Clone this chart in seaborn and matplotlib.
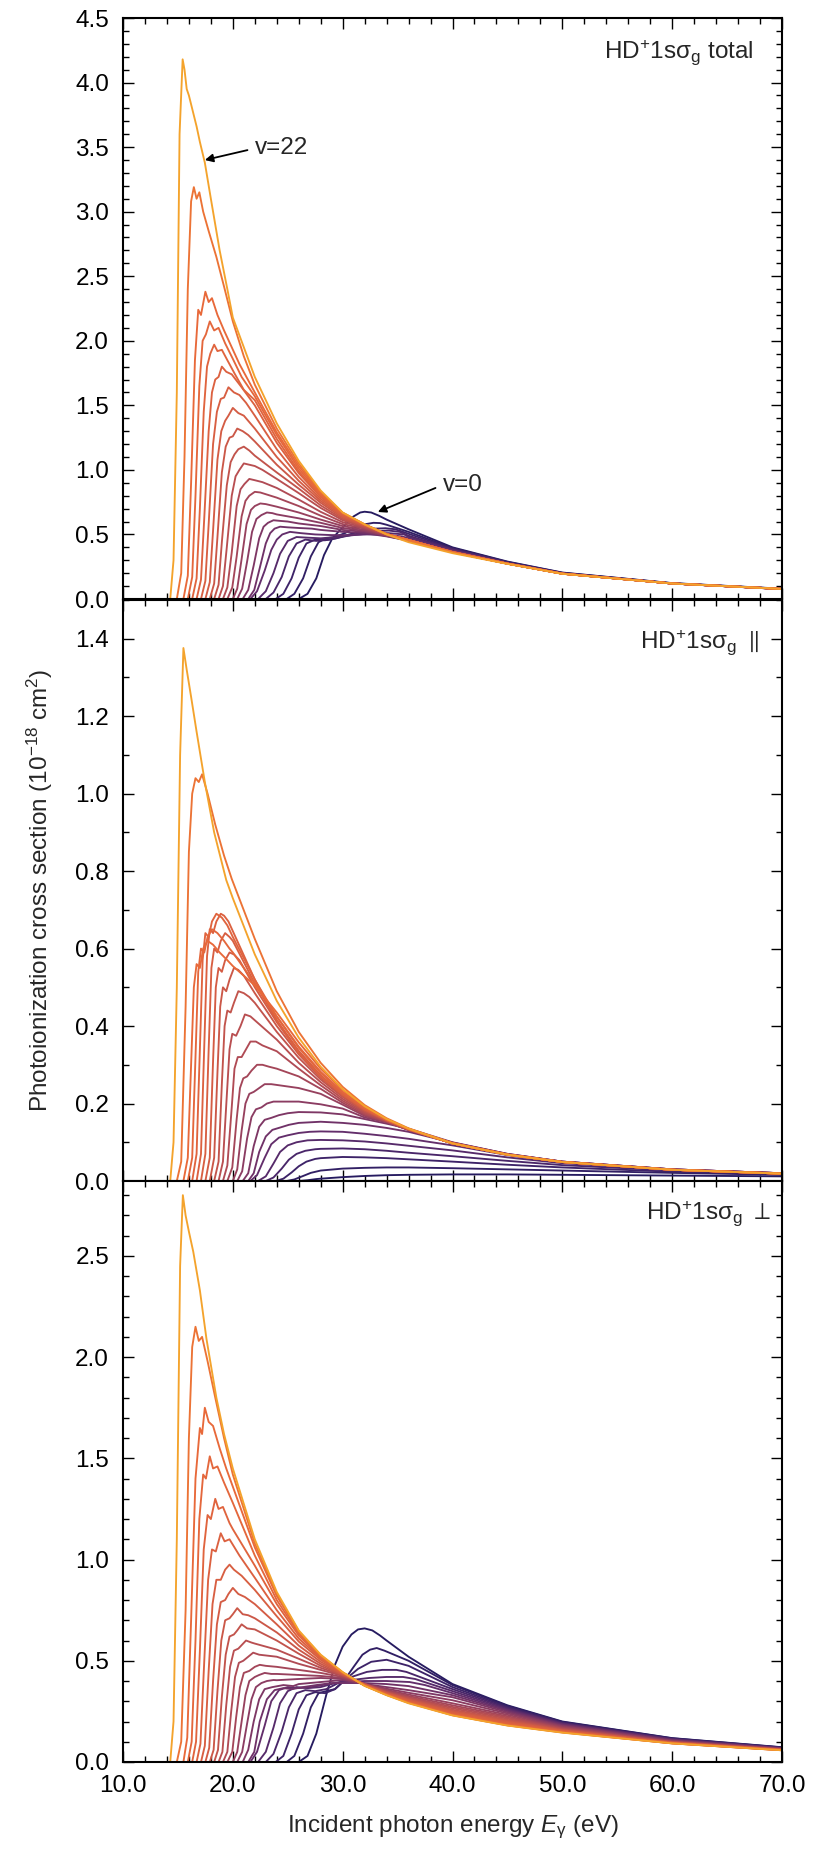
import matplotlib
matplotlib.use("Agg")
import matplotlib.pyplot as plt
import numpy as np
import pandas as pd
import seaborn as sns
from matplotlib.ticker import MultipleLocator, FormatStrFormatter
from matplotlib.colors import LinearSegmentedColormap, to_hex

N = None
levels = list(range(23))
tail_E = [20, 22, 24, 26, 28, 30, 32, 34, 36, 40, 45, 50, 60, 70]

# ---------------- total ----------------
total_head_E = [
    [26.0, 26.8, 27.6, 28.3, 29.0, 29.6, 30.3, 31.0, 31.6, 32.0, 32.6, 33.3],
    [24.9, 25.6, 26.4, 27.1, 27.8, 28.5, 29.3, 30.2, 31.2, 32.1, 32.8, 33.4, 34.0],
    [23.9, 24.6, 25.35, 26.0, 26.7, 27.5, 28.4, 29.4, 30.6, 31.8, 32.9, 33.9, 34.8],
    [23.0, 23.7, 24.45, 25.1, 25.8, 26.6, 27.6, 28.8, 30.2, 31.6, 32.9, 34.2, 35.2],
    [22.3, 23.0, 23.7, 24.3, 25.0, 25.8, 26.8, 28.0, 29.4, 31.0, 32.6, 34.2, 35.6],
    [21.6, 22.2, 22.9, 23.5, 24.0, 24.5, 25.2, 26.2, 27.5, 29.0, 30.6, 32.2, 33.8, 35.4],
    [21.4, 21.95, 22.45, 23.0, 23.4, 23.8, 24.3, 25.0, 26.0, 27.2],
    [20.9, 21.4, 21.9, 22.4, 22.8, 23.2, 23.7, 24.3, 25.0],
    [20.4, 20.85, 21.3, 21.75, 22.15, 22.6, 23.1, 23.6],
    [20.0, 20.4, 20.8, 21.25, 21.65, 22.0, 22.5, 23.0],
    [19.5, 19.95, 20.35, 20.8, 21.15, 21.5, 22.0, 22.5],
    [19.1, 19.5, 19.9, 20.35, 20.7, 21.05, 21.5, 22.0, 22.7],
    [18.7, 19.1, 19.45, 19.9, 20.25, 20.6, 21.0, 21.5, 22.0, 22.7],
    [18.3, 18.7, 19.0, 19.45, 19.8, 20.15, 20.5, 21.0, 21.5],
    [17.9, 18.3, 18.6, 19.0, 19.35, 19.7, 20.0, 20.4, 20.9, 21.4],
    [17.5, 17.9, 18.2, 18.6, 18.95, 19.3, 19.6, 20.0, 20.5, 21.0],
    [17.1, 17.5, 17.8, 18.2, 18.55, 18.9, 19.2, 19.6, 20.1, 20.6, 21.2],
    [16.7, 17.1, 17.4, 17.8, 18.1, 18.4, 18.7, 19.0, 19.4, 19.9, 20.8],
    [16.3, 16.7, 17.0, 17.35, 17.65, 17.95, 18.3, 18.6, 19.0, 19.5, 20.2, 21.0],
    [15.9, 16.3, 16.6, 16.95, 17.25, 17.55, 17.9, 18.3, 18.7, 19.3, 20.0, 20.8],
    [15.5, 15.9, 16.2, 16.55, 16.85, 17.1, 17.5, 17.8, 18.1, 18.6, 19.2, 19.9, 20.6],
    [14.9, 15.3, 15.6, 15.9, 16.2, 16.45, 16.7, 16.95, 17.3, 17.8, 18.5, 19.2, 20.0, 21.0],
    [14.3, 14.6, 14.9, 15.15, 15.43, 15.6, 15.8, 16.0, 16.35, 16.7, 17.0, 17.45, 18.0, 18.8, 19.5],
]
total_head_S = [
    [0, 0.04, 0.16, 0.34, 0.46, 0.52, 0.58, 0.64, 0.67, 0.676, 0.67, 0.645],
    [0, 0.04, 0.16, 0.33, 0.44, 0.47, 0.48, 0.51, 0.555, 0.58, 0.59, 0.588, 0.575],
    [0, 0.04, 0.16, 0.32, 0.43, 0.46, 0.455, 0.47, 0.5, 0.53, 0.545, 0.548, 0.54],
    [0, 0.05, 0.17, 0.33, 0.43, 0.46, 0.45, 0.46, 0.485, 0.51, 0.525, 0.53, 0.52],
    [0, 0.06, 0.2, 0.35, 0.45, 0.48, 0.475, 0.47, 0.48, 0.495, 0.51, 0.51, 0.5],
    [0, 0.06, 0.22, 0.38, 0.46, 0.5, 0.52, 0.51, 0.5, 0.495, 0.495, 0.5, 0.497, 0.485],
    [0, 0.07, 0.24, 0.43, 0.51, 0.545, 0.56, 0.555, 0.55, 0.545],
    [0, 0.07, 0.26, 0.47, 0.56, 0.59, 0.61, 0.605, 0.6],
    [0, 0.08, 0.29, 0.52, 0.62, 0.65, 0.67, 0.665],
    [0, 0.08, 0.31, 0.58, 0.69, 0.72, 0.74, 0.735],
    [0, 0.09, 0.33, 0.64, 0.76, 0.8, 0.83, 0.825],
    [0, 0.09, 0.36, 0.72, 0.85, 0.89, 0.93, 0.92, 0.905],
    [0, 0.1, 0.4, 0.8, 0.95, 1.0, 1.05, 1.04, 1.03, 1.0],
    [0, 0.11, 0.44, 0.88, 1.06, 1.12, 1.16, 1.18, 1.15],
    [0, 0.12, 0.48, 0.98, 1.18, 1.25, 1.26, 1.32, 1.3, 1.27],
    [0, 0.13, 0.53, 1.08, 1.3, 1.38, 1.42, 1.48, 1.44, 1.42],
    [0, 0.14, 0.58, 1.2, 1.45, 1.55, 1.56, 1.64, 1.6, 1.58, 1.52],
    [0, 0.15, 0.63, 1.3, 1.6, 1.7, 1.72, 1.8, 1.76, 1.74, 1.64],
    [0, 0.16, 0.7, 1.45, 1.8, 1.9, 1.97, 1.92, 1.93, 1.85, 1.74, 1.62],
    [0, 0.17, 0.8, 1.65, 2.0, 2.05, 2.15, 2.08, 2.1, 1.98, 1.86, 1.72],
    [0, 0.18, 0.9, 1.85, 2.24, 2.2, 2.38, 2.3, 2.33, 2.2, 2.08, 1.95, 1.82],
    [0, 0.2, 1.1, 2.4, 3.08, 3.19, 3.1, 3.15, 3.0, 2.85, 2.65, 2.42, 2.15, 1.88],
    [0, 0.3, 1.6, 3.6, 4.18, 4.1, 3.95, 3.9, 3.78, 3.66, 3.54, 3.38, 3.1, 2.7, 2.4],
]
total_tail_S = [
    [N] * 7 + [0.615, 0.54, 0.40, 0.29, 0.205, 0.123, 0.08],
    [N] * 8 + [0.52, 0.395, 0.287, 0.203, 0.122, 0.079],
    [N] * 8 + [0.505, 0.39, 0.284, 0.201, 0.121, 0.079],
    [N] * 8 + [0.49, 0.385, 0.281, 0.2, 0.12, 0.078],
    [N] * 8 + [0.48, 0.38, 0.279, 0.199, 0.12, 0.078],
    [N] * 8 + [0.47, 0.375, 0.277, 0.198, 0.12, 0.078],
    [N] * 4 + [0.535, 0.52, 0.51, 0.485, 0.452, 0.37, 0.276, 0.198, 0.12, 0.077],
    [N] * 3 + [0.585, 0.565, 0.535, 0.52, 0.488, 0.453, 0.368, 0.275, 0.198, 0.12, 0.077],
    [N] * 2 + [0.655, 0.625, 0.59, 0.55, 0.527, 0.49, 0.454, 0.366, 0.275, 0.198, 0.12, 0.077],
    [N] * 2 + [0.715, 0.67, 0.615, 0.565, 0.535, 0.492, 0.455, 0.365, 0.275, 0.197, 0.12, 0.077],
    [N] * 2 + [0.785, 0.72, 0.645, 0.58, 0.545, 0.495, 0.455, 0.365, 0.275, 0.197, 0.12, 0.077],
    [N] * 2 + [0.86, 0.77, 0.675, 0.595, 0.552, 0.497, 0.455, 0.364, 0.274, 0.196, 0.12, 0.078],
    [N] * 2 + [0.93, 0.82, 0.705, 0.61, 0.558, 0.5, 0.456, 0.364, 0.274, 0.196, 0.12, 0.078],
    [N] + [1.11, 0.98, 0.855, 0.725, 0.62, 0.563, 0.5, 0.456, 0.364, 0.274, 0.196, 0.12, 0.078],
    [N] + [1.22, 1.04, 0.885, 0.745, 0.63, 0.567, 0.502, 0.457, 0.364, 0.274, 0.196, 0.12, 0.078],
    [N] + [1.32, 1.1, 0.915, 0.76, 0.64, 0.57, 0.503, 0.457, 0.364, 0.274, 0.196, 0.12, 0.078],
    [N] + [1.42, 1.16, 0.945, 0.775, 0.648, 0.572, 0.503, 0.457, 0.363, 0.274, 0.196, 0.12, 0.078],
    [N] + [1.5, 1.21, 0.975, 0.79, 0.655, 0.574, 0.503, 0.457, 0.363, 0.274, 0.196, 0.12, 0.078],
    [N] + [1.54, 1.24, 0.99, 0.8, 0.66, 0.575, 0.503, 0.457, 0.363, 0.274, 0.196, 0.12, 0.078],
    [N] + [1.57, 1.27, 1.01, 0.81, 0.665, 0.576, 0.503, 0.457, 0.363, 0.274, 0.196, 0.12, 0.078],
    [N] + [1.6, 1.29, 1.03, 0.82, 0.667, 0.577, 0.503, 0.457, 0.363, 0.274, 0.196, 0.12, 0.078],
    [N] + [1.66, 1.32, 1.05, 0.83, 0.668, 0.578, 0.502, 0.456, 0.362, 0.273, 0.196, 0.12, 0.078],
    [2.18, 1.72, 1.36, 1.07, 0.84, 0.67, 0.578, 0.5, 0.44, 0.355, 0.272, 0.195, 0.12, 0.078],
]

# ---------------- parallel ----------------
par_head_E = [
    [26.0, 26.8, 27.6],
    [24.9, 25.6, 26.4, 27.1],
    [23.9, 24.6, 25.35, 26.0, 26.7, 27.5],
    [23.0, 23.7, 24.45, 25.1, 25.8, 26.6, 27.5],
    [22.3, 23.0, 23.7, 24.3, 25.0, 25.8, 26.8],
    [21.6, 22.2, 22.9, 23.5, 24.2, 25.0, 26.0, 27.0],
    [21.4, 21.9, 22.4, 23.0, 23.6, 24.3, 25.1, 26.0],
    [20.9, 21.4, 21.9, 22.4, 22.9, 23.5, 24.2, 25.0],
    [20.4, 20.85, 21.3, 21.7, 22.1, 22.6, 23.1, 23.7],
    [20.0, 20.4, 20.8, 21.15, 21.5, 21.9, 22.4, 22.9, 23.5],
    [19.5, 19.95, 20.35, 20.65, 20.95, 21.3, 21.7, 22.2, 22.7, 23.3],
    [19.1, 19.5, 19.9, 20.15, 20.45, 20.8, 21.2, 21.6, 22.1, 22.7],
    [18.7, 19.1, 19.45, 19.7, 19.95, 20.3, 20.7, 21.1, 21.6],
    [18.3, 18.7, 19.0, 19.25, 19.5, 19.8, 20.1, 20.5, 21.0, 21.5],
    [17.9, 18.3, 18.6, 18.85, 19.1, 19.4, 19.7, 20.1, 20.5, 21.0],
    [17.5, 17.9, 18.2, 18.45, 18.7, 19.0, 19.3, 19.7, 20.1, 20.6],
    [17.1, 17.5, 17.8, 18.05, 18.3, 18.6, 18.9, 19.3, 19.7],
    [16.7, 17.1, 17.4, 17.65, 17.9, 18.2, 18.5, 18.9, 19.2, 19.6],
    [16.3, 16.7, 17.0, 17.25, 17.5, 17.8, 18.1, 18.5, 19.0, 19.5],
    [15.9, 16.3, 16.6, 16.85, 17.1, 17.4, 17.7, 18.1, 18.6, 19.2, 19.7],
    [15.5, 15.9, 16.2, 16.45, 16.7, 17.0, 17.3, 17.7, 18.2, 18.8, 19.5],
    [14.9, 15.3, 15.7, 16.0, 16.3, 16.6, 16.9, 17.2, 17.7, 18.4, 19.2, 19.9],
    [14.3, 14.6, 14.9, 15.2, 15.5, 15.8, 16.2, 16.7, 17.45, 18.3, 19.4],
]
par_head_S = [
    [0, 0.002, 0.005],
    [0, 0.004, 0.013, 0.021],
    [0, 0.006, 0.022, 0.038, 0.05, 0.057],
    [0, 0.009, 0.032, 0.055, 0.07, 0.078, 0.082],
    [0, 0.012, 0.045, 0.075, 0.092, 0.1, 0.105],
    [0, 0.015, 0.06, 0.095, 0.112, 0.118, 0.124, 0.127],
    [0, 0.02, 0.075, 0.115, 0.132, 0.138, 0.145, 0.15],
    [0, 0.02, 0.09, 0.14, 0.158, 0.163, 0.17, 0.175],
    [0, 0.025, 0.11, 0.165, 0.185, 0.19, 0.2, 0.205],
    [0, 0.03, 0.13, 0.2, 0.225, 0.23, 0.24, 0.25, 0.25],
    [0, 0.035, 0.16, 0.24, 0.265, 0.27, 0.285, 0.3, 0.3, 0.295],
    [0, 0.04, 0.19, 0.29, 0.32, 0.32, 0.34, 0.36, 0.36, 0.35],
    [0, 0.05, 0.22, 0.34, 0.38, 0.375, 0.4, 0.43, 0.425],
    [0, 0.05, 0.25, 0.4, 0.44, 0.435, 0.46, 0.49, 0.485, 0.475],
    [0, 0.06, 0.28, 0.45, 0.5, 0.49, 0.52, 0.55, 0.545, 0.53],
    [0, 0.06, 0.31, 0.5, 0.55, 0.54, 0.57, 0.59, 0.585, 0.57],
    [0, 0.07, 0.34, 0.55, 0.6, 0.59, 0.62, 0.64, 0.63],
    [0, 0.07, 0.35, 0.58, 0.65, 0.64, 0.67, 0.69, 0.685, 0.67],
    [0, 0.07, 0.34, 0.57, 0.64, 0.63, 0.67, 0.69, 0.68, 0.66],
    [0, 0.06, 0.32, 0.54, 0.6, 0.59, 0.63, 0.65, 0.64, 0.62, 0.6],
    [0, 0.06, 0.3, 0.5, 0.56, 0.55, 0.6, 0.62, 0.61, 0.59, 0.57],
    [0, 0.05, 0.45, 0.85, 1.0, 1.04, 1.03, 1.05, 1.0, 0.92, 0.84, 0.78],
    [0, 0.1, 0.5, 1.1, 1.376, 1.32, 1.25, 1.16, 1.03, 0.9, 0.777],
]
par_tail_S = [
    [N] * 4 + [0.006, 0.01, 0.013, 0.015, 0.016, 0.017, 0.017, 0.016, 0.014, 0.012],
    [N] * 4 + [0.027, 0.032, 0.034, 0.035, 0.035, 0.033, 0.03, 0.027, 0.021, 0.016],
    [N] * 4 + [0.059, 0.062, 0.061, 0.059, 0.056, 0.05, 0.042, 0.035, 0.024, 0.017],
    [N] * 4 + [0.083, 0.084, 0.082, 0.078, 0.073, 0.064, 0.052, 0.041, 0.027, 0.018],
    [N] * 4 + [0.106, 0.105, 0.102, 0.097, 0.091, 0.079, 0.061, 0.046, 0.029, 0.019],
    [N] * 4 + [0.128, 0.127, 0.122, 0.116, 0.109, 0.092, 0.067, 0.049, 0.03, 0.02],
    [N] * 4 + [0.153, 0.15, 0.145, 0.137, 0.127, 0.099, 0.07, 0.05, 0.03, 0.02],
    [N] * 3 + [0.178, 0.177, 0.172, 0.16, 0.148, 0.135, 0.1, 0.07, 0.05, 0.03, 0.02],
    [N] * 2 + [0.205, 0.205, 0.198, 0.187, 0.164, 0.152, 0.132, 0.099, 0.069, 0.05, 0.03, 0.02],
    [N] * 2 + [0.248, 0.24, 0.225, 0.197, 0.168, 0.152, 0.132, 0.098, 0.069, 0.05, 0.03, 0.02],
    [N] * 2 + [0.29, 0.27, 0.238, 0.202, 0.171, 0.153, 0.132, 0.098, 0.069, 0.049, 0.029, 0.02],
    [N] * 2 + [0.335, 0.29, 0.247, 0.207, 0.174, 0.154, 0.132, 0.097, 0.068, 0.049, 0.029, 0.019],
    [N] + [0.415, 0.365, 0.305, 0.255, 0.212, 0.177, 0.155, 0.133, 0.097, 0.068, 0.049, 0.029, 0.019],
    [N] + [0.46, 0.385, 0.318, 0.262, 0.217, 0.18, 0.156, 0.133, 0.097, 0.068, 0.049, 0.029, 0.019],
    [N] + [0.485, 0.4, 0.327, 0.267, 0.22, 0.182, 0.157, 0.134, 0.097, 0.068, 0.049, 0.029, 0.019],
    [N] + [0.5, 0.41, 0.332, 0.27, 0.222, 0.184, 0.157, 0.134, 0.097, 0.068, 0.049, 0.029, 0.019],
    [0.62, 0.51, 0.415, 0.336, 0.273, 0.224, 0.185, 0.157, 0.134, 0.097, 0.068, 0.049, 0.029, 0.019],
    [0.645, 0.52, 0.415, 0.33, 0.27, 0.224, 0.186, 0.158, 0.134, 0.097, 0.068, 0.049, 0.029, 0.019],
    [0.63, 0.52, 0.424, 0.344, 0.279, 0.228, 0.188, 0.158, 0.134, 0.097, 0.068, 0.049, 0.029, 0.019],
    [0.59, 0.51, 0.425, 0.347, 0.282, 0.23, 0.189, 0.158, 0.134, 0.097, 0.068, 0.049, 0.029, 0.019],
    [0.555, 0.505, 0.435, 0.358, 0.29, 0.235, 0.192, 0.159, 0.134, 0.097, 0.068, 0.049, 0.029, 0.019],
    [N] + [0.625, 0.49, 0.385, 0.305, 0.243, 0.196, 0.162, 0.136, 0.098, 0.068, 0.049, 0.029, 0.019],
    [0.73, 0.585, 0.465, 0.37, 0.295, 0.237, 0.193, 0.16, 0.135, 0.097, 0.068, 0.049, 0.029, 0.019],
]

# ---------------- perpendicular ----------------
perp_head_E = [
    [26.0, 26.8, 27.6, 28.5, 29.3, 30.0, 30.8, 31.4, 32.0, 32.7, 33.4],
    [24.9, 25.6, 26.4, 27.1, 27.8, 28.5, 29.3, 30.1, 31.0, 31.8, 32.5, 33.1, 33.8],
    [23.9, 24.6, 25.35, 26.0, 26.7, 27.5, 28.4, 29.3, 30.3, 31.4, 32.6, 34.0, 35.0],
    [23.0, 23.7, 24.45, 25.1, 25.8, 26.6, 27.5, 28.5, 29.6, 30.8, 32.2, 33.6, 34.9, 35.8],
    [22.3, 23.0, 23.7, 24.3, 25.0, 25.8, 26.8, 28.0, 29.3, 30.8, 32.4, 34.0, 35.5, 36.6],
    [21.6, 22.2, 22.9, 23.5, 24.2, 25.0, 26.0, 27.2, 28.6, 30.2, 32.0, 34.0, 36.1, 37.5],
    [21.4, 21.95, 22.45, 23.1, 23.8, 24.6, 25.4, 26.4, 27.6, 29.0, 30.5],
    [20.9, 21.4, 21.9, 22.4, 22.9, 23.6, 24.6, 25.5],
    [20.4, 20.85, 21.3, 21.7, 22.1, 22.6, 23.1, 23.7],
    [20.0, 20.4, 20.8, 21.15, 21.5, 22.0, 22.4, 22.9, 23.5],
    [19.5, 19.95, 20.3, 20.65, 21.0, 21.5, 22.0, 22.45, 23.0],
    [19.1, 19.5, 19.85, 20.2, 20.55, 20.95, 21.4, 21.85, 22.4],
    [18.7, 19.05, 19.4, 19.75, 20.1, 20.5, 20.85, 21.2, 21.7],
    [18.3, 18.65, 19.0, 19.35, 19.7, 20.1, 20.4, 20.8, 21.3],
    [17.9, 18.25, 18.6, 18.95, 19.3, 19.7, 20.0, 20.4, 20.9, 21.4],
    [17.5, 17.85, 18.2, 18.55, 18.9, 19.3, 19.6, 20.0, 20.5, 21.1],
    [17.1, 17.45, 17.8, 18.15, 18.5, 18.9, 19.3, 19.7, 20.1, 20.8],
    [16.7, 17.05, 17.4, 17.75, 18.1, 18.45, 18.9, 19.25, 19.7, 20.6],
    [16.3, 16.65, 17.0, 17.35, 17.7, 18.0, 18.4, 18.7, 19.1, 19.7],
    [15.9, 16.25, 16.6, 16.95, 17.3, 17.55, 17.9, 18.2, 18.6, 19.2],
    [15.5, 15.85, 16.2, 16.6, 17.0, 17.2, 17.45, 17.8, 18.2, 18.8, 19.4],
    [14.9, 15.3, 15.7, 16.0, 16.3, 16.6, 16.9, 17.2, 17.7, 18.4, 19.2],
    [14.3, 14.6, 14.9, 15.2, 15.45, 15.7, 16.0, 16.4, 17.0, 17.6, 18.5, 19.2],
]
perp_head_S = [
    [0, 0.03, 0.14, 0.33, 0.48, 0.57, 0.63, 0.655, 0.66, 0.65, 0.625],
    [0, 0.03, 0.14, 0.27, 0.34, 0.35, 0.36, 0.4, 0.47, 0.53, 0.555, 0.563, 0.55],
    [0, 0.03, 0.14, 0.26, 0.33, 0.345, 0.34, 0.36, 0.41, 0.46, 0.495, 0.505, 0.49],
    [0, 0.04, 0.15, 0.27, 0.34, 0.355, 0.35, 0.36, 0.39, 0.42, 0.445, 0.455, 0.455, 0.445],
    [0, 0.05, 0.17, 0.29, 0.35, 0.37, 0.365, 0.37, 0.39, 0.405, 0.415, 0.42, 0.42, 0.41],
    [0, 0.05, 0.18, 0.3, 0.355, 0.37, 0.365, 0.37, 0.385, 0.395, 0.4, 0.4, 0.395, 0.38],
    [0, 0.05, 0.2, 0.31, 0.355, 0.365, 0.36, 0.37, 0.38, 0.39, 0.39],
    [0, 0.06, 0.2, 0.31, 0.36, 0.37, 0.38, 0.375],
    [0, 0.05, 0.19, 0.31, 0.37, 0.39, 0.4, 0.405],
    [0, 0.05, 0.2, 0.33, 0.4, 0.42, 0.43, 0.44, 0.435],
    [0, 0.05, 0.22, 0.37, 0.44, 0.45, 0.47, 0.48, 0.475],
    [0, 0.05, 0.25, 0.42, 0.49, 0.5, 0.52, 0.54, 0.53],
    [0, 0.05, 0.28, 0.47, 0.55, 0.56, 0.58, 0.6, 0.59],
    [0, 0.06, 0.32, 0.53, 0.62, 0.63, 0.65, 0.68, 0.66],
    [0, 0.06, 0.35, 0.6, 0.7, 0.71, 0.73, 0.76, 0.73, 0.725],
    [0, 0.07, 0.4, 0.68, 0.79, 0.8, 0.83, 0.86, 0.83, 0.815],
    [0, 0.08, 0.45, 0.78, 0.9, 0.9, 0.95, 0.975, 0.95, 0.92],
    [0, 0.09, 0.5, 0.9, 1.05, 1.04, 1.13, 1.09, 1.1, 1.02],
    [0, 0.1, 0.55, 1.05, 1.22, 1.2, 1.3, 1.25, 1.26, 1.18],
    [0, 0.1, 0.6, 1.2, 1.42, 1.4, 1.51, 1.45, 1.46, 1.38],
    [0, 0.12, 0.7, 1.4, 1.65, 1.62, 1.75, 1.68, 1.66, 1.55, 1.45],
    [0, 0.1, 0.75, 1.6, 2.05, 2.15, 2.08, 2.1, 1.98, 1.8, 1.6],
    [0, 0.2, 1.1, 2.45, 2.8, 2.7, 2.62, 2.52, 2.33, 2.09, 1.8, 1.62],
]
perp_tail_S = [
    [N] * 7 + [0.6, 0.52, 0.385, 0.28, 0.2, 0.118, 0.073],
    [N] * 8 + [0.5, 0.38, 0.277, 0.198, 0.117, 0.072],
    [N] * 8 + [0.475, 0.37, 0.272, 0.195, 0.115, 0.071],
    [N] * 9 + [0.36, 0.267, 0.192, 0.113, 0.07],
    [N] * 9 + [0.35, 0.262, 0.19, 0.112, 0.069],
    [N] * 9 + [0.34, 0.257, 0.187, 0.11, 0.068],
    [N] * 6 + [0.39, 0.385, 0.375, 0.33, 0.252, 0.184, 0.108, 0.067],
    [N] * 3 + [0.385, 0.395, 0.405, 0.385, 0.37, 0.355, 0.32, 0.246, 0.18, 0.106, 0.066],
    [N] * 2 + [0.404, 0.41, 0.415, 0.41, 0.385, 0.362, 0.342, 0.305, 0.24, 0.177, 0.104, 0.065],
    [N] * 2 + [0.435, 0.43, 0.425, 0.415, 0.385, 0.356, 0.333, 0.29, 0.233, 0.173, 0.102, 0.064],
    [N] * 2 + [0.47, 0.455, 0.44, 0.42, 0.385, 0.352, 0.326, 0.28, 0.226, 0.169, 0.1, 0.063],
    [N] * 2 + [0.52, 0.485, 0.455, 0.425, 0.385, 0.348, 0.32, 0.272, 0.22, 0.165, 0.099, 0.062],
    [N] + [0.585, 0.555, 0.51, 0.465, 0.428, 0.385, 0.345, 0.316, 0.265, 0.214, 0.162, 0.098, 0.062],
    [N] + [0.655, 0.6, 0.535, 0.475, 0.43, 0.384, 0.343, 0.312, 0.258, 0.208, 0.159, 0.097, 0.061],
    [N] + [0.71, 0.64, 0.555, 0.485, 0.432, 0.383, 0.341, 0.308, 0.252, 0.203, 0.157, 0.096, 0.061],
    [N] + [0.78, 0.68, 0.575, 0.495, 0.435, 0.382, 0.339, 0.305, 0.247, 0.198, 0.155, 0.095, 0.06],
    [N] + [0.85, 0.72, 0.595, 0.505, 0.437, 0.381, 0.337, 0.302, 0.243, 0.194, 0.153, 0.095, 0.06],
    [N] + [0.91, 0.75, 0.61, 0.512, 0.439, 0.38, 0.335, 0.299, 0.239, 0.19, 0.151, 0.094, 0.06],
    [1.15, 0.97, 0.78, 0.625, 0.518, 0.44, 0.379, 0.334, 0.297, 0.236, 0.187, 0.15, 0.093, 0.059],
    [1.28, 1.02, 0.8, 0.635, 0.522, 0.441, 0.378, 0.333, 0.295, 0.234, 0.184, 0.148, 0.093, 0.059],
    [1.36, 1.06, 0.82, 0.643, 0.525, 0.442, 0.377, 0.332, 0.293, 0.232, 0.182, 0.147, 0.092, 0.058],
    [1.42, 1.08, 0.83, 0.646, 0.527, 0.443, 0.377, 0.331, 0.292, 0.231, 0.181, 0.146, 0.092, 0.058],
    [1.45, 1.1, 0.84, 0.65, 0.53, 0.444, 0.376, 0.33, 0.29, 0.23, 0.18, 0.145, 0.092, 0.058],
]

panel_labels = ["HD$^{+}$1s$\\mathrm{\\sigma_g}$ total",
                "HD$^{+}$1s$\\mathrm{\\sigma_g}\\ \\parallel$",
                "HD$^{+}$1s$\\mathrm{\\sigma_g}\\ \\perp$"]
ylims = [4.5, 1.5, 2.87]
ymajor = [0.5, 0.2, 0.5]


def build(head_E, head_S, tail_S):
    rows = []
    for v in levels:
        assert len(head_E[v]) == len(head_S[v]), (v, 'head')
        assert len(tail_S[v]) == len(tail_E), (v, 'tail')
        E = list(head_E[v])
        S = list(head_S[v])
        for e, s in zip(tail_E, tail_S[v]):
            if s is not None and e > E[-1]:
                E.append(e)
                S.append(s)
        rows += [(f"v={v}", e, s) for e, s in zip(E, S)]
    return pd.DataFrame(rows, columns=["level", "E", "S"])


frames = [build(total_head_E, total_head_S, total_tail_S),
          build(par_head_E, par_head_S, par_tail_S),
          build(perp_head_E, perp_head_S, perp_tail_S)]

sns.set_theme(style="ticks")
plt.rcParams["font.family"] = ["Liberation Sans", "DejaVu Sans"]
plt.rcParams["mathtext.fontset"] = "custom"
plt.rcParams["mathtext.rm"] = "Liberation Sans"
plt.rcParams["mathtext.it"] = "Liberation Sans:italic"
plt.rcParams["mathtext.bf"] = "Liberation Sans:bold"
plt.rcParams["mathtext.fallback"] = "stixsans"

cmap = LinearSegmentedColormap.from_list("vib", [
    (0.0, "#261b60"), (2 / 22, "#3d2368"), (5 / 22, "#632e6b"),
    (8 / 22, "#8b3c62"), (11 / 22, "#b04b55"), (15 / 22, "#d45c44"),
    (20 / 22, "#e8693a"), (21 / 22, "#ec7035"), (1.0, "#f4a32c")])
hue_order = [f"v={v}" for v in levels]
palette = {f"v={v}": to_hex(cmap(v / 22)) for v in levels}

fig = plt.figure(figsize=(8.22, 18.55), dpi=100)
L, W, H = 123 / 822, 659 / 822, 581 / 1855
bottoms = [1 - 599 / 1855, 1 - 1181 / 1855, 1 - 1762 / 1855]
label_pos = [(0.957, 0.929), (0.966, 0.915), (0.983, 0.932)]
FS = 17.5

for i in range(3):
    ax = fig.add_axes([L, bottoms[i], W, H])
    sns.lineplot(data=frames[i], x="E", y="S", hue="level", hue_order=hue_order,
                 palette=palette, legend=False, ax=ax, linewidth=1.35,
                 estimator=None, sort=False)
    ax.set_xlabel("")
    ax.set_ylabel("")
    ax.set_xlim(10, 70)
    ax.set_ylim(0, ylims[i])
    ax.xaxis.set_major_locator(MultipleLocator(10))
    ax.xaxis.set_minor_locator(MultipleLocator(2))
    ax.yaxis.set_major_locator(MultipleLocator(ymajor[i]))
    ax.yaxis.set_minor_locator(MultipleLocator(0.1))
    ax.xaxis.set_major_formatter(FormatStrFormatter("%.1f"))
    ax.yaxis.set_major_formatter(FormatStrFormatter("%.1f"))
    ax.tick_params(which="both", direction="in", top=True, right=True,
                   width=1.0, colors="black", labelsize=FS)
    ax.tick_params(which="major", length=8)
    ax.tick_params(which="minor", length=4.5)
    ax.tick_params(axis="x", pad=9)
    ax.tick_params(axis="y", pad=10)
    if i < 2:
        ax.tick_params(axis="x", labelbottom=False)
    for sp in ax.spines.values():
        sp.set_linewidth(1.5)
        sp.set_color("black")
    ax.text(label_pos[i][0], label_pos[i][1], panel_labels[i], transform=ax.transAxes,
            ha="right", va="baseline", fontsize=FS)
    if i == 0:
        ax.annotate("v=22", xy=(17.45, 3.40), xytext=(22.0, 3.49), ha="left", va="center",
                    fontsize=FS,
                    arrowprops=dict(arrowstyle="-|>", color="black", lw=1.3,
                                    shrinkA=3, shrinkB=0, mutation_scale=12,
                                    relpos=(0, 0.5)))
        ax.annotate("v=0", xy=(33.2, 0.674), xytext=(39.1, 0.883), ha="left", va="center",
                    fontsize=FS,
                    arrowprops=dict(arrowstyle="-|>", color="black", lw=1.3,
                                    shrinkA=3, shrinkB=0, mutation_scale=12,
                                    relpos=(0, 0.5)))

fig.text(0.0487, 1 - 890 / 1855, "Photoionization cross section (10$^{-18}$ cm$^{2}$)",
         rotation=90, ha="center", va="center", fontsize=FS)
fig.text((123 + 782) / 2 / 822, 1 - 1832 / 1855,
         "Incident photon energy $E_{\\mathrm{\\gamma}}$ (eV)",
         ha="center", va="baseline", fontsize=FS)

fig.savefig("out.png", dpi=100)
